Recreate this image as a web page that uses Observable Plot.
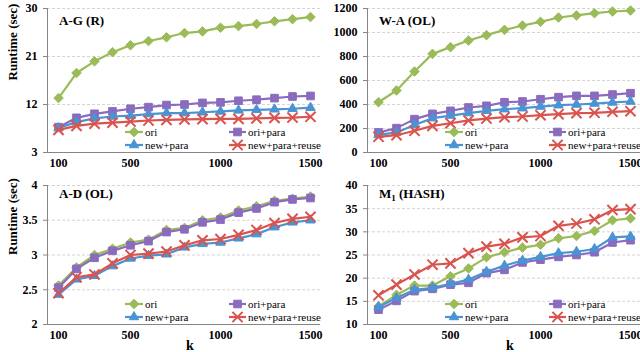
<!DOCTYPE html>
<html>
<head>
<meta charset="utf-8">
<script src="https://cdn.jsdelivr.net/npm/d3@7"></script>
<script src="https://cdn.jsdelivr.net/npm/@observablehq/plot@0.6"></script>
<style>
  html, body { margin: 0; padding: 0; background: white; overflow: hidden; }
  #wrap { position: relative; width: 640px; height: 352px; overflow: hidden; }
  .panel { position: absolute; width: 320px; height: 176px; }
  .panel svg { overflow: visible; background: transparent !important; }
  #wrap svg, #wrap svg text, #wrap svg tspan { font-family: "Liberation Serif", "Times New Roman", serif !important; }
</style>
</head>
<body>
<div id="wrap"></div>
<script>
// Categories (k) and tick labels
const ks = [100, 200, 300, 400, 500, 600, 700, 800, 900, 1000, 1100, 1200, 1300, 1400, 1500];
const xTicks = [100, 500, 1000, 1500];
const seriesNames = ["ori", "ori+para", "new+para", "new+para+reuse"];
const seriesColors = ["#9BBB59", "#8A6BBE", "#4A94D4", "#D9534F"];

// A-G (R)
const agTicks = [3, 12, 21, 30];
const agOri = [13.2, 17.9, 20.1, 21.8, 23.1, 23.9, 24.6, 25.4, 25.7, 26.4, 26.7, 27.1, 27.6, 28.0, 28.4];
const agOriPara = [7.75, 9.5, 10.25, 10.7, 11.2, 11.5, 11.9, 12.0, 12.3, 12.4, 12.7, 12.9, 13.2, 13.5, 13.6];
const agNewPara = [7.6, 8.7, 9.4, 9.75, 9.9, 10.2, 10.4, 10.4, 10.55, 10.7, 10.9, 11.0, 11.1, 11.2, 11.4];
const agNewParaReuse = [7.25, 8.0, 8.4, 8.6, 8.8, 9.0, 9.1, 9.2, 9.25, 9.3, 9.3, 9.4, 9.5, 9.55, 9.7];

// W-A (OL)
const waTicks = [0, 200, 400, 600, 800, 1000, 1200];
const waOri = [419, 517, 675, 822, 878, 933, 978, 1022, 1058, 1089, 1125, 1142, 1161, 1175, 1183];
const waOriPara = [167, 203, 278, 322, 347, 375, 389, 419, 425, 444, 461, 472, 472, 483, 494];
const waNewPara = [147, 167, 230, 286, 308, 328, 347, 361, 369, 383, 394, 400, 408, 417, 425];
const waNewParaReuse = [131, 144, 181, 222, 244, 267, 283, 294, 300, 311, 319, 328, 331, 339, 344];

// A-D (OL)
const adTicks = [2, 2.5, 3, 3.5, 4];
const adOri = [2.56, 2.82, 3.0, 3.09, 3.18, 3.22, 3.36, 3.39, 3.50, 3.54, 3.64, 3.70, 3.78, 3.81, 3.84];
const adOriPara = [2.53, 2.80, 2.96, 3.06, 3.14, 3.20, 3.33, 3.37, 3.47, 3.51, 3.61, 3.67, 3.76, 3.80, 3.82];
const adNewPara = [2.43, 2.65, 2.70, 2.84, 2.95, 2.99, 3.01, 3.11, 3.16, 3.18, 3.24, 3.30, 3.40, 3.47, 3.50];
const adNewParaReuse = [2.45, 2.68, 2.72, 2.88, 3.00, 3.02, 3.05, 3.14, 3.21, 3.23, 3.29, 3.36, 3.46, 3.52, 3.55];

// M1 (HASH)
const m1Ticks = [10, 15, 20, 25, 30, 35, 40];
const m1Ori = [13.9, 16.4, 18.4, 18.4, 20.4, 22.1, 24.5, 25.6, 26.6, 27.2, 28.6, 29.1, 30.2, 32.5, 32.9];
const m1OriPara = [13.2, 15.1, 17.2, 17.7, 18.6, 19.0, 21.1, 21.8, 23.4, 24.0, 24.6, 25.0, 25.6, 27.7, 28.2];
const m1NewPara = [13.8, 15.7, 17.5, 17.9, 18.8, 19.7, 21.4, 22.7, 23.8, 24.6, 25.4, 25.7, 26.3, 28.8, 29.0];
const m1NewParaReuse = [16.3, 18.6, 20.8, 22.9, 23.2, 25.4, 26.8, 27.4, 28.8, 29.1, 31.3, 31.8, 32.7, 34.7, 34.9];

const FONT = "'Liberation Serif', 'Times New Roman', serif";
const AXIS = "#868686";
const symbols = ["diamond2", "square", "triangle", "times"];
const symbolRadius = [4.3, 4.3, 3.5, 4.7];
const d3Symbols = [d3.symbolDiamond2, d3.symbolSquare, d3.symbolTriangle, d3.symbolTimes];
const fmt = d => String(d);

const panels = [
  {title: "A-G (R)", ticks: agTicks, series: [agOri, agOriPara, agNewPara, agNewParaReuse], left: 0, top: 0, yLabel: true, xLabel: false},
  {title: "W-A (OL)", ticks: waTicks, series: [waOri, waOriPara, waNewPara, waNewParaReuse], left: 320, top: 0, yLabel: false, xLabel: false},
  {title: "A-D (OL)", ticks: adTicks, series: [adOri, adOriPara, adNewPara, adNewParaReuse], left: 0, top: 176, yLabel: true, xLabel: true},
  {title: "M", sub: "1", rest: " (HASH)", ticks: m1Ticks, series: [m1Ori, m1OriPara, m1NewPara, m1NewParaReuse], left: 320, top: 176, yLabel: false, xLabel: true}
];

const wrap = document.getElementById("wrap");

panels.forEach(p => {
  const isTop = p.top === 0;
  const mTop = isTop ? 8 : 9;
  const mBottom = isTop ? 24 : 28;
  const domain = [p.ticks[0], p.ticks[p.ticks.length - 1]];

  const marks = [
    Plot.gridY({ticks: p.ticks, stroke: "#d4d4d4", strokeOpacity: 1, strokeDasharray: "3,2"}),
    Plot.ruleY([domain[0]], {stroke: AXIS, strokeWidth: 1}),
    Plot.frame({anchor: "left", stroke: AXIS}),
    Plot.axisY({ticks: p.ticks, tickFormat: fmt, tickSize: 4, tickPadding: 6, stroke: AXIS, fill: "black", fontSize: 12, fontWeight: "bold", label: null}),
    Plot.axisX({ticks: xTicks, tickFormat: fmt, tickSize: 0, tickPadding: 6, fill: "black", fontSize: 12, fontWeight: "bold", label: null})
  ];

  p.series.forEach((vals, i) => {
    const rows = vals.map((v, j) => ({k: ks[j], v, s: seriesNames[i]}));
    marks.push(Plot.line(rows, {x: "k", y: "v", stroke: seriesColors[i], strokeWidth: 2.2}));
    if (symbols[i] === "times") {
      marks.push(Plot.dot(rows, {x: "k", y: "v", symbol: symbols[i], r: symbolRadius[i], fill: "none", stroke: seriesColors[i], strokeWidth: 2}));
    } else {
      marks.push(Plot.dot(rows, {x: "k", y: "v", symbol: symbols[i], r: symbolRadius[i], fill: seriesColors[i], stroke: seriesColors[i], strokeWidth: 1}));
    }
  });

  if (p.yLabel) {
    marks.push(Plot.text(["Runtime (sec)"], {frameAnchor: "left", dx: -35, rotate: -90, fontSize: 13, fontWeight: "bold", fill: "black"}));
  }
  if (p.xLabel) {
    marks.push(Plot.text(["k"], {frameAnchor: "bottom", dx: 6, dy: 21, fontSize: 14, fontWeight: "bold", fill: "black", lineAnchor: "middle"}));
  }

  const svg = Plot.plot({
    width: 320,
    height: 176,
    marginLeft: 47,
    marginRight: 0,
    marginTop: mTop,
    marginBottom: mBottom,
    style: {background: "transparent", overflow: "visible"},
    x: {type: "point", domain: ks, padding: 0.5},
    y: {domain: domain},
    marks
  });

  const s = d3.select(svg);
  // Title
  const t = s.append("text")
    .attr("x", 59).attr("y", isTop ? 25 : 22)
    .attr("text-anchor", "start")
    .attr("font-family", FONT).attr("font-size", 13).attr("font-weight", "bold").attr("fill", "black");
  t.append("tspan").text(p.title);
  if (p.sub) {
    t.append("tspan").attr("font-size", 9).attr("dy", 3).text(p.sub);
    t.append("tspan").attr("dy", -3).text(p.rest);
  }

  // Legend
  const plotBottom = 176 - mBottom;
  const rowsY = [plotBottom - 20, plotBottom - 7];
  const cols = [{x0: 125, x1: 143, tx: 145}, {x0: 229, x1: 246, tx: 248}];
  const lg = s.append("g").attr("font-family", FONT).attr("font-size", 11).attr("text-anchor", "start");
  seriesNames.forEach((name, i) => {
    const c = cols[i % 2];
    const y = rowsY[Math.floor(i / 2)];
    lg.append("line").attr("x1", c.x0).attr("x2", c.x1).attr("y1", y).attr("y2", y)
      .attr("stroke", seriesColors[i]).attr("stroke-width", 2.2);
    const r = symbolRadius[i];
    const path = d3.symbol().type(d3Symbols[i]).size(Math.PI * r * r)();
    const sym = lg.append("path").attr("d", path)
      .attr("transform", `translate(${(c.x0 + c.x1) / 2},${y})`);
    if (symbols[i] === "times") {
      sym.attr("fill", "none").attr("stroke", seriesColors[i]).attr("stroke-width", 2);
    } else {
      sym.attr("fill", seriesColors[i]).attr("stroke", seriesColors[i]).attr("stroke-width", 1);
    }
    lg.append("text").attr("x", c.tx).attr("y", y).attr("dy", "0.32em").attr("fill", "black").text(name);
  });

  const div = document.createElement("div");
  div.className = "panel";
  div.style.left = p.left + "px";
  div.style.top = p.top + "px";
  div.appendChild(svg);
  wrap.appendChild(div);
});
</script>
</body>
</html>
